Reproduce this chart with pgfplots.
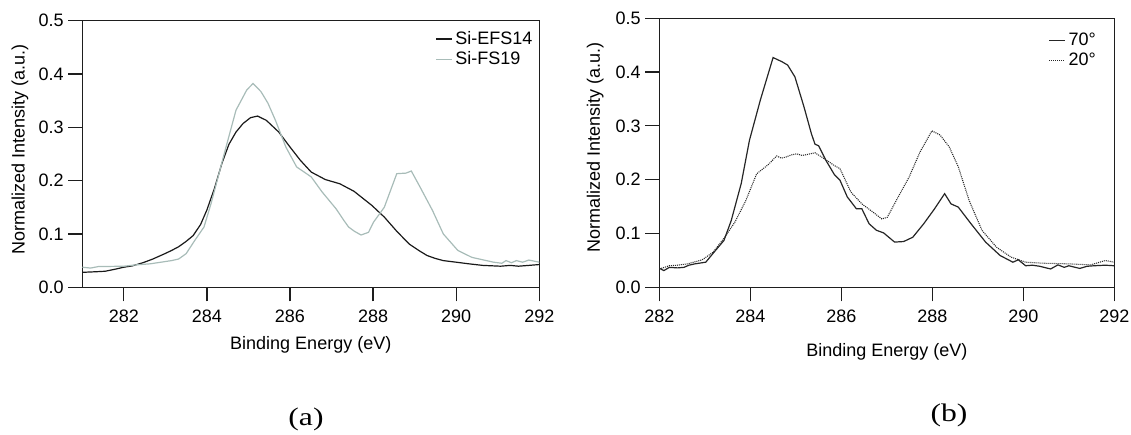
\documentclass[border=0pt]{standalone}
\usepackage{fontspec}
\setmainfont{Liberation Sans}
\newfontfamily\seriffont{Liberation Serif}
\usepackage{graphicx}
\usepackage{pgfplots}
\pgfplotsset{compat=1.18}
\definecolor{fsgrey}{RGB}{168,188,184}
\definecolor{axcol}{RGB}{30,30,30}

\pgfplotsset{
  myaxis/.style={
    scale only axis,
    axis line style={axcol, line width=0.9pt},
    tick style={axcol, line width=0.9pt},
    tick align=outside,
    tick pos=left,
    major tick length=10.5pt,
    ymin=0, ymax=0.5,
    ytick={0,0.1,...,0.5},
    xtick={282,284,...,292},
    /pgf/number format/assume math mode=true,
    yticklabel style={/pgf/number format/fixed,/pgf/number format/fixed zerofill,/pgf/number format/precision=1, font=\fontsize{13.5}{15}\selectfont},
    xticklabel style={/pgf/number format/1000 sep={}, font=\fontsize{13.5}{15}\selectfont, yshift=-3pt},
    scaled y ticks=false,
    label style={font=\fontsize{13.5}{16}\selectfont},
    legend style={draw=none, fill=none, font=\fontsize{13.5}{16}\selectfont, legend cell align=left},
    legend image code/.code={\draw[##1] (0pt,0pt) -- (12pt,0pt);},
    xlabel={Binding Energy (eV)},
    ylabel={Normalized Intensity (a.u.)},
  }
}

\begin{document}
\begin{tikzpicture}
\useasboundingbox (0,0) rectangle (848.25pt,326.25pt);

% ---------- panel (a)
\begin{axis}[myaxis,
  at={(61.7pt,110.8pt)}, anchor=south west,
  width=342.75pt, height=200pt,
  xmin=281, xmax=292,
  xlabel style={at={(axis description cs:0.5,0)}, anchor=center, yshift=-43.3pt},
  ylabel style={at={(axis description cs:0,0.5)}, anchor=center, rotate=0, yshift=46.7pt, xshift=3pt},
  legend style={at={(axis description cs:1,1)}, anchor=north east, xshift=0pt, yshift=-4pt},
]
\addplot[black!90, line width=0.9pt] coordinates {
(281,0.028)(281.3,0.029)(281.55,0.030)(281.8,0.034)(282,0.0376)(282.2,0.040)(282.46,0.046)
(282.7,0.053)(282.98,0.0627)(283.15,0.069)(283.32,0.076)(283.5,0.086)(283.67,0.097)(283.85,0.118)
(284.0,0.145)(284.18,0.185)(284.36,0.232)(284.53,0.268)(284.7,0.291)(284.87,0.307)(285.05,0.318)
(285.22,0.321)(285.43,0.313)(285.73,0.291)(286,0.263)(286.25,0.238)(286.51,0.216)(286.85,0.202)
(287.2,0.194)(287.54,0.18)(287.97,0.1535)(288.27,0.1316)(288.57,0.105)(288.87,0.081)(289.1,0.069)
(289.3,0.0595)(289.5,0.054)(289.69,0.050)(290,0.047)(290.3,0.044)(290.64,0.041)(291.07,0.0395)
(291.3,0.041)(291.5,0.0395)(291.75,0.041)(292,0.0426)
};
\addlegendentry{Si-EFS14}
\addplot[fsgrey, line width=0.9pt] coordinates {
(281,0.0376)(281.2,0.036)(281.4,0.039)(281.6,0.039)(282,0.0395)(282.3,0.042)(282.64,0.044)
(282.98,0.048)(283.15,0.050)(283.32,0.053)(283.5,0.063)(283.71,0.088)(283.93,0.113)(284.1,0.157)
(284.27,0.207)(284.44,0.257)(284.7,0.332)(284.96,0.37)(285.11,0.382)(285.3,0.367)(285.47,0.345)
(285.65,0.313)(285.9,0.263)(286.16,0.2256)(286.51,0.207)(286.77,0.179)(287.11,0.147)(287.3,0.125)
(287.41,0.113)(287.55,0.105)(287.71,0.098)(287.89,0.103)(288.01,0.122)(288.27,0.150)(288.57,0.213)
(288.79,0.214)(288.92,0.218)(289.13,0.188)(289.43,0.144)(289.69,0.100)(290.04,0.069)(290.38,0.056)
(290.9,0.047)(291.1,0.045)(291.2,0.050)(291.33,0.046)(291.45,0.050)(291.6,0.047)(291.75,0.051)(292,0.047)
};
\addlegendentry{Si-FS19}
\end{axis}

% ---------- panel (b)
\begin{axis}[myaxis,
  at={(494.5pt,110.8pt)}, anchor=south west,
  width=341.25pt, height=201.75pt,
  xmin=282, xmax=292,
  xlabel style={at={(axis description cs:0.5,0)}, anchor=center, yshift=-48.5pt},
  ylabel style={at={(axis description cs:0,0.5)}, anchor=center, yshift=48pt, xshift=4pt},
  legend style={at={(axis description cs:1,1)}, anchor=north east, xshift=-8.7pt, yshift=-7pt},
]
\addplot[black!85, line width=0.9pt] coordinates {
(282,0.0354)(282.1,0.031)(282.22,0.037)(282.4,0.036)(282.54,0.037)(282.65,0.041)(282.78,0.0435)
(283.02,0.0466)(283.22,0.067)(283.42,0.087)(283.58,0.124)(283.8,0.193)(283.98,0.273)(284.22,0.348)
(284.5,0.427)(284.7,0.419)(284.82,0.413)(284.98,0.391)(285.18,0.335)(285.34,0.286)(285.42,0.266)
(285.5,0.263)(285.66,0.236)(285.85,0.209)(285.97,0.199)(286.13,0.168)(286.33,0.146)(286.45,0.146)
(286.61,0.118)(286.77,0.106)(286.93,0.101)(287.17,0.084)(287.37,0.085)(287.57,0.093)(287.81,0.118)
(288.05,0.146)(288.27,0.174)(288.41,0.155)(288.57,0.149)(288.85,0.118)(289.17,0.084)(289.49,0.059)
(289.77,0.0466)(289.89,0.051)(290.05,0.040)(290.2,0.041)(290.36,0.039)(290.6,0.034)(290.76,0.0416)
(290.9,0.037)(291,0.040)(291.24,0.035)(291.4,0.039)(291.56,0.040)(291.8,0.041)(292,0.040)
};
\addlegendentry{70°}
\addplot[black!85, line width=0.8pt, dash pattern=on 0.75pt off 0.75pt] coordinates {
(282,0.034)(282.22,0.040)(282.4,0.041)(282.62,0.0435)(282.94,0.051)(283.18,0.065)(283.42,0.091)
(283.66,0.121)(283.9,0.161)(284.14,0.211)(284.38,0.227)(284.58,0.244)(284.68,0.240)(284.78,0.242)
(284.9,0.246)(285.02,0.248)(285.14,0.245)(285.26,0.247)(285.42,0.25)(285.55,0.243)(285.66,0.237)
(285.85,0.226)(285.97,0.2205)(286.21,0.177)(286.45,0.155)(286.69,0.140)(286.89,0.127)(287.01,0.130)
(287.25,0.168)(287.49,0.205)(287.73,0.2516)(287.99,0.2907)(288.17,0.283)(288.37,0.261)(288.57,0.224)
(288.81,0.161)(289.09,0.106)(289.41,0.0745)(289.73,0.056)(290.05,0.0466)(290.44,0.0447)(291,0.0435)
(291.48,0.0416)(291.8,0.0497)(292,0.0466)
};
\addlegendentry{20°}
\end{axis}

\node[font=\seriffont\fontsize{19}{22}\selectfont] at (229.5pt,12pt) {\scalebox{1.25}[1]{(a)}};
\node[font=\seriffont\fontsize{19}{22}\selectfont] at (711.75pt,15pt) {\scalebox{1.25}[1]{(b)}};
\end{tikzpicture}
\end{document}
